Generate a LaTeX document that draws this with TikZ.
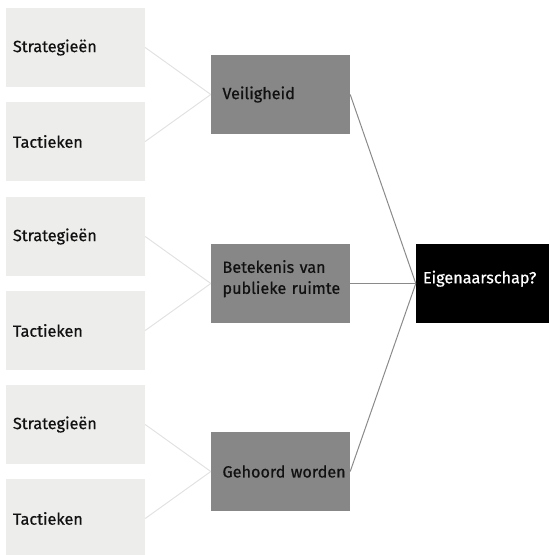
\documentclass[tikz,border=0pt]{standalone}
\usepackage{fontspec}
\setmainfont{Fira Sans}[FakeBold=0.6]
\usepackage{tikz}
\definecolor{lightbox}{HTML}{EDEDEB}
\definecolor{midbox}{HTML}{878787}
\definecolor{thinline}{HTML}{E2E2E2}
\definecolor{darkline}{HTML}{8A8A8A}
\definecolor{ink}{HTML}{111111}

\tikzset{
	box/.style={rectangle, minimum width=139pt, minimum height=79pt, text width=125pt,
		inner sep=7pt, align=left, font=\fontsize{16.2}{21}\selectfont, text=ink},
	subbox/.style={box, fill=lightbox},
	themebox/.style={box, fill=midbox, inner xsep=11.5pt, text width=116pt},
	goalbox/.style={box, fill=black, text=white, minimum width=133pt, text width=119pt},
	raised/.style={text depth=#1},
	weak/.style={draw=thinline, line width=1pt},
	strong/.style={draw=darkline, line width=1pt}
}

\begin{document}
\begin{tikzpicture}[x=1pt, y=-1pt]
		%%%%% START %%%%%
		
		\useasboundingbox (0, 0) rectangle (549, 555);
		
		% left column
		\node[subbox] (strat1) at (75.5, 47.5) {Strategieën};
		\node[subbox] (tact1) at (75.5, 141.5) {Tactieken};
		\node[subbox] (strat2) at (75.5, 236.5) {Strategieën};
		\node[subbox] (tact2) at (75.5, 330.5) {Tactieken};
		\node[subbox] (strat3) at (75.5, 424.5) {Strategieën};
		\node[subbox] (tact3) at (75.5, 518.5) {Tactieken};
		
		% middle column
		\node[themebox, raised=34pt] (betekenis) at (280.5, 283.5) {\mbox{Betekenis van}\\\mbox{publieke ruimte}};
		\node[themebox] (veilig) at (280.5, 94.5) {Veiligheid};
		\node[themebox] (gehoord) at (280.5, 471.5) {\mbox{Gehoord worden}};
		
		% right
		\node[goalbox, raised=13pt] (eigen) at (482.5, 283.5) {Eigenaarschap?};
		
		\draw[weak] (strat1.east) -- (veilig.west);
		\draw[weak] (tact1.east) -- (veilig.west);
		\draw[weak] (strat2.east) -- (betekenis.west);
		\draw[weak] (tact2.east) -- (betekenis.west);
		\draw[weak] (strat3.east) -- (gehoord.west);
		\draw[weak] (tact3.east) -- (gehoord.west);
		
		\draw[strong] (veilig.east) -- (eigen.west);
		\draw[strong] (betekenis.east) -- (eigen.west);
		\draw[strong] (gehoord.east) -- (eigen.west);
		
		%%%%% END %%%%%
	\end{tikzpicture}
\end{document}
